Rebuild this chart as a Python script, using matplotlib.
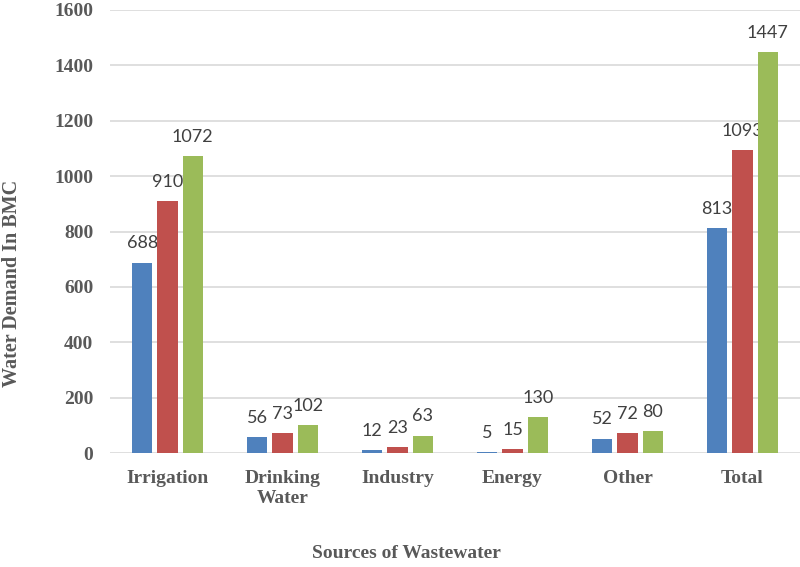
import numpy as np
import matplotlib
matplotlib.use("Agg")
from matplotlib import pyplot as plt

# Data
categories = ["Irrigation", "Drinking\nWater", "Industry", "Energy", "Other", "Total"]
series_1 = [688, 56, 12, 5, 52, 813]
series_2 = [910, 73, 23, 15, 72, 1093]
series_3 = [1072, 102, 63, 130, 80, 1447]
y_ticks = [0, 200, 400, 600, 800, 1000, 1200, 1400, 1600]

colors = ["#4F81BD", "#C0504D", "#9BBB59"]
text_color = "#595959"
serif = ["Liberation Serif", "DejaVu Serif"]

fig = plt.figure(figsize=(8, 5.67), dpi=100)
ax = fig.add_axes([110/800, 1 - 453/567, 690/800, (453 - 10)/567])

x = np.arange(len(categories))
width = 0.174
step = 0.22

for i, (vals, c) in enumerate(zip([series_1, series_2, series_3], colors)):
    pos = x + (i - 1)*step
    bars = ax.bar(pos, vals, width=width, color=c, zorder=3)
    for b, v in zip(bars, vals):
        ax.annotate(str(v), (b.get_x() + b.get_width()/2, v),
                    xytext=(0, 8), textcoords="offset points",
                    ha="center", va="bottom", fontsize=13,
                    family=["Lato", "DejaVu Sans"], color="#404040")

ax.set_xlim(-0.5, len(categories) - 0.5)
ax.set_ylim(0, 1600)
ax.set_yticks(y_ticks)
ax.set_xticks(x)
ax.set_xticklabels(categories, family=serif, fontweight="bold",
                   fontsize=14, color=text_color, linespacing=1.25)
ax.set_yticklabels([str(t) for t in y_ticks], family=serif,
                   fontweight="bold", fontsize=14, color=text_color)
ax.tick_params(axis="both", length=0)
ax.tick_params(axis="y", pad=12)
ax.tick_params(axis="x", pad=12)

ax.grid(axis="y", color="#D9D9D9", linewidth=1.2, zorder=0)
for s in ax.spines.values():
    s.set_visible(False)

fig.text(12/800, 1 - 283/567, "Water Demand In BMC", rotation=90,
         ha="center", va="center", family=serif, fontweight="bold",
         fontsize=14.5, color=text_color)
fig.text(406/800, 1 - 553/567, "Sources of Wastewater",
         ha="center", va="center", family=serif, fontweight="bold",
         fontsize=14, color=text_color)

fig.savefig("out.png", dpi=100)
